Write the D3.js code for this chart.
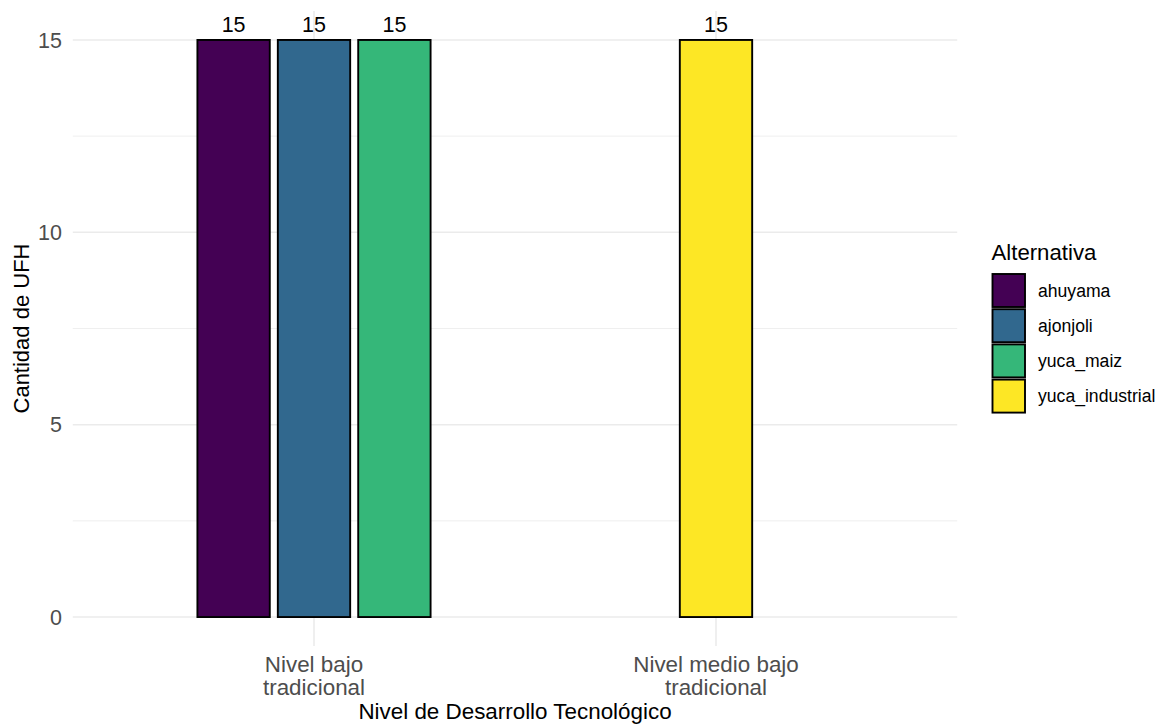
<!DOCTYPE html>
<html><head><meta charset="utf-8">
<script src="https://cdn.jsdelivr.net/npm/d3@7"></script>
<style>body{margin:0;background:#fff}svg text{font-family:"Liberation Sans",Arial,sans-serif}</style>
</head><body><svg id="c" width="1160" height="724"></svg>
<script>
const categories = ["Nivel bajo\ntradicional", "Nivel medio bajo\ntradicional"];
const alternatives = ["ahuyama", "ajonjoli", "yuca_maiz", "yuca_industrial"];
const colors = ["#440154", "#31688E", "#35B779", "#FDE725"];
const barCategory = ["Nivel bajo\ntradicional", "Nivel bajo\ntradicional", "Nivel bajo\ntradicional", "Nivel medio bajo\ntradicional"];
const barAlternative = ["ahuyama", "ajonjoli", "yuca_maiz", "yuca_industrial"];
const barValues = [15, 15, 15, 15];
const yTicks = [0, 5, 10, 15];
const yMinor = [2.5, 7.5, 12.5];

const svg = d3.select("#c");
const L = 72.8, R = 957.2, T = 11.1, B = 645.9;
const x = d3.scaleLinear().domain([0.4, 2.6]).range([L, R]);
const y = d3.scaleLinear().domain([-0.75, 15.75]).range([B, T]);
const color = d3.scaleOrdinal().domain(alternatives).range(colors);

const g = svg.append("g");
g.selectAll(".ymin").data(yMinor).join("line").attr("x1", L).attr("x2", R)
  .attr("y1", d => y(d)).attr("y2", d => y(d)).attr("stroke", "#ebebeb").attr("stroke-width", 0.8);
g.selectAll(".ymaj").data(yTicks).join("line").attr("x1", L).attr("x2", R)
  .attr("y1", d => y(d)).attr("y2", d => y(d)).attr("stroke", "#ebebeb").attr("stroke-width", 1.6);
g.selectAll(".xmaj").data(categories).join("line").attr("y1", T).attr("y2", B)
  .attr("x1", (d, i) => x(i + 1)).attr("x2", (d, i) => x(i + 1)).attr("stroke", "#ebebeb").attr("stroke-width", 1.6);

const bars = barValues.map((v, i) => {
  const ci = categories.indexOf(barCategory[i]);
  const members = barAlternative.filter((a, j) => barCategory[j] === barCategory[i]);
  const k = members.indexOf(barAlternative[i]);
  const n = members.length;
  const step = 0.2, w = 0.18;
  const center = ci + 1 + (k - (n - 1) / 2) * step;
  return {v, alt: barAlternative[i], x0: center - w / 2, x1: center + w / 2, c: center};
});
g.selectAll("rect.bar").data(bars).join("rect")
  .attr("x", d => x(d.x0)).attr("width", d => x(d.x1) - x(d.x0))
  .attr("y", d => y(d.v)).attr("height", d => y(0) - y(d.v))
  .attr("fill", d => color(d.alt)).attr("stroke", "#000").attr("stroke-width", 1.9);
g.selectAll("text.lab").data(bars).join("text")
  .attr("x", d => x(d.c)).attr("y", d => y(d.v) - 8).attr("text-anchor", "middle")
  .attr("font-size", 21.5).attr("fill", "#000").text(d => d.v);

g.selectAll("text.yt").data(yTicks).join("text")
  .attr("x", 62).attr("y", d => y(d)).attr("dy", "0.36em").attr("text-anchor", "end")
  .attr("font-size", 21.5).attr("fill", "#4d4d4d").text(d => d);
categories.forEach((c, i) => {
  c.split("\n").forEach((ln, j) => g.append("text").attr("text-anchor", "middle").attr("font-size", 22.4)
    .attr("fill", "#4d4d4d").attr("x", x(i + 1)).attr("y", 672 + j * 23).text(ln));
});
g.append("text").attr("x", (L + R) / 2).attr("y", 718.5).attr("text-anchor", "middle")
  .attr("font-size", 22.4).attr("fill", "#000").text("Nivel de Desarrollo Tecnológico");
g.append("text").attr("transform", `translate(29,${(T + B) / 2}) rotate(-90)`).attr("text-anchor", "middle")
  .attr("font-size", 22).attr("fill", "#000").text("Cantidad de UFH");

const lg = svg.append("g").attr("transform", "translate(991,0)");
lg.append("text").attr("x", 0.5).attr("y", 260).attr("font-size", 22.2).attr("fill", "#000").text("Alternativa");
alternatives.forEach((a, i) => {
  const y0 = 274 + i * 35.2;
  lg.append("rect").attr("x", 1.5).attr("y", y0).attr("width", 32.5).attr("height", 33)
    .attr("fill", color(a)).attr("stroke", "#000").attr("stroke-width", 1.9);
  lg.append("text").attr("x", 47).attr("y", y0 + 16.5).attr("dy", "0.35em").attr("font-size", 17.6)
    .attr("fill", "#000").text(a);
});
</script></body></html>
